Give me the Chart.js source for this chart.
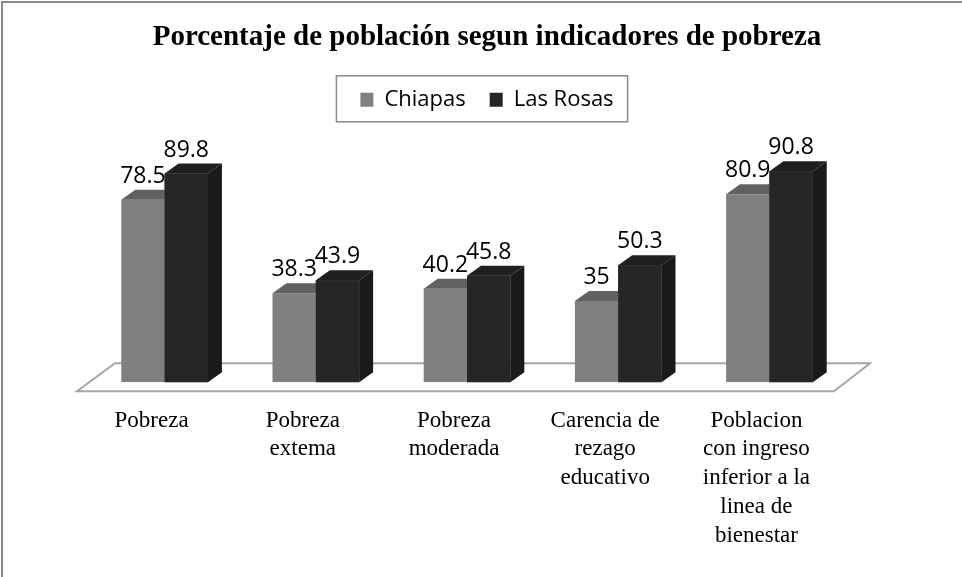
<!DOCTYPE html>
<html lang="es">
<head>
  <meta charset="UTF-8">
  <title>Porcentaje de población segun indicadores de pobreza</title>
  <script src="https://cdn.jsdelivr.net/npm/chart.js"></script>
  <style>
    body { margin: 0; background: #fff; overflow: hidden; }
    .wrap { position: relative; width: 962px; height: 577px; }
  </style>
</head>
<body>
  <div class="wrap"><canvas id="chart"></canvas></div>

  <script>
    // Data
    const categories = [
      'Pobreza',
      ['Pobreza', 'extema'],
      ['Pobreza', 'moderada'],
      ['Carencia de', 'rezago', 'educativo'],
      ['Poblacion', 'con ingreso', 'inferior a la', 'linea de', 'bienestar']
    ];
    const chiapas = [78.5, 38.3, 40.2, 35, 80.9];
    const lasRosas = [89.8, 43.9, 45.8, 50.3, 90.8];

    // 3D look: depth of the bars, shades for top and side faces
    const depthX = 14, depthY = 10;
    const shades = [
      { top: '#616161', side: '#5a5a5a' },
      { top: '#1f1f1f', side: '#1a1a1a' }
    ];

    const scenePlugin = {
      id: 'scene',
      beforeDraw(chart) {
        // outer frame (only top/left edges are visible in the picture)
        const ctx = chart.ctx;
        ctx.save();
        ctx.strokeStyle = '#8a8a8a';
        ctx.lineWidth = 2;
        ctx.strokeRect(2, 2, chart.width + 20, chart.height + 20);
        ctx.restore();
      },
      beforeDatasetsDraw(chart) {
        // floor plane
        const ctx = chart.ctx, ca = chart.chartArea;
        const y0 = chart.scales.y.getPixelForValue(0);
        ctx.save();
        ctx.beginPath();
        ctx.moveTo(ca.left - 12, y0 + 9);
        ctx.lineTo(ca.right - 11, y0 + 9);
        ctx.lineTo(ca.right + 25, y0 - 19);
        ctx.lineTo(ca.left + 26, y0 - 19);
        ctx.closePath();
        ctx.fillStyle = '#ffffff';
        ctx.fill();
        ctx.strokeStyle = '#a6a6a6';
        ctx.lineWidth = 2;
        ctx.stroke();
        ctx.restore();
      },
      afterDatasetsDraw(chart) {
        const ctx = chart.ctx;
        ctx.save();
        // faces: first series, then second one on top so it hides the first one's side
        chart.data.datasets.forEach((ds, i) => {
          const shade = shades[i];
          chart.getDatasetMeta(i).data.forEach(bar => {
            if (i > 0) bar.draw(ctx);
            const { x, y, base, width } = bar.getProps(['x', 'y', 'base', 'width'], true);
            const l = x - width / 2, r = x + width / 2;
            ctx.beginPath();
            ctx.moveTo(l, y);
            ctx.lineTo(r, y);
            ctx.lineTo(r + depthX, y - depthY);
            ctx.lineTo(l + depthX, y - depthY);
            ctx.closePath();
            ctx.fillStyle = shade.top;
            ctx.fill();
            ctx.beginPath();
            ctx.moveTo(r, y);
            ctx.lineTo(r + depthX, y - depthY);
            ctx.lineTo(r + depthX, base - depthY);
            ctx.lineTo(r, base);
            ctx.closePath();
            ctx.fillStyle = shade.side;
            ctx.fill();
          });
        });

        // value labels
        ctx.font = '23px "Open Sans"';
        ctx.fillStyle = '#000';
        ctx.textAlign = 'center';
        ctx.textBaseline = 'alphabetic';
        chart.data.datasets.forEach((ds, i) => {
          chart.getDatasetMeta(i).data.forEach((bar, j) => {
            const { x, y } = bar.getProps(['x', 'y'], true);
            ctx.fillText(String(ds.data[j]), x, y - 17);
          });
        });
        ctx.restore();
      },
      afterDraw(chart) {
        // border round the legend
        const boxes = chart.legend.legendHitBoxes;
        if (!boxes || !boxes.length) return;
        const left = Math.min(...boxes.map(b => b.left)) - 24;
        const right = Math.max(...boxes.map(b => b.left + b.width)) + 14;
        const top = boxes[0].top - 13;
        const bottom = boxes[0].top + boxes[0].height + 11;
        const ctx = chart.ctx;
        ctx.save();
        ctx.strokeStyle = '#8a8a8a';
        ctx.lineWidth = 1.5;
        ctx.strokeRect(left, top, right - left, bottom - top);
        ctx.restore();
      }
    };

    new Chart(document.getElementById('chart'), {
      type: 'bar',
      data: {
        labels: categories,
        datasets: [
          { label: 'Chiapas', data: chiapas, backgroundColor: '#808080' },
          { label: 'Las Rosas', data: lasRosas, backgroundColor: '#262626' }
        ]
      },
      options: {
        responsive: true,
        maintainAspectRatio: false,
        animation: false,
        layout: { padding: { left: 12, right: 0, top: 0, bottom: 3 } },
        datasets: { bar: { barPercentage: 1, categoryPercentage: 0.573 } },
        plugins: {
          title: {
            display: true,
            text: 'Porcentaje de población segun indicadores de pobreza',
            color: '#000',
            font: { family: '"Liberation Serif", serif', size: 29, weight: 'bold' },
            padding: { top: 20, bottom: 10 }
          },
          legend: {
            display: true,
            position: 'top',
            labels: {
              color: '#000',
              font: { family: '"Open Sans"', size: 22 },
              boxWidth: 13,
              boxHeight: 14,
              padding: 24
            }
          },
          tooltip: { enabled: false }
        },
        scales: {
          x: {
            position: 'bottom',
            grid: { display: false, drawTicks: false },
            border: { display: false },
            ticks: {
              color: '#000',
              font: { family: '"Liberation Serif", serif', size: 23, lineHeight: 1.25 },
              padding: 24,
              labelOffset: -13,
              maxRotation: 0,
              autoSkip: false
            }
          },
          xTop: {
            type: 'category',
            position: 'top',
            grid: { display: false, drawTicks: false },
            border: { display: false },
            ticks: { display: false },
            afterFit(scale) { scale.height = 29; }
          },
          y: {
            min: 0,
            max: 100,
            grid: { display: false, drawTicks: false },
            border: { display: false },
            ticks: { display: false },
            afterFit(scale) { scale.width = 77; }
          },
          yRight: {
            type: 'linear',
            position: 'right',
            grid: { display: false, drawTicks: false },
            border: { display: false },
            ticks: { display: false },
            afterFit(scale) { scale.width = 117; }
          }
        }
      },
      plugins: [scenePlugin]
    });
  </script>
</body>
</html>
